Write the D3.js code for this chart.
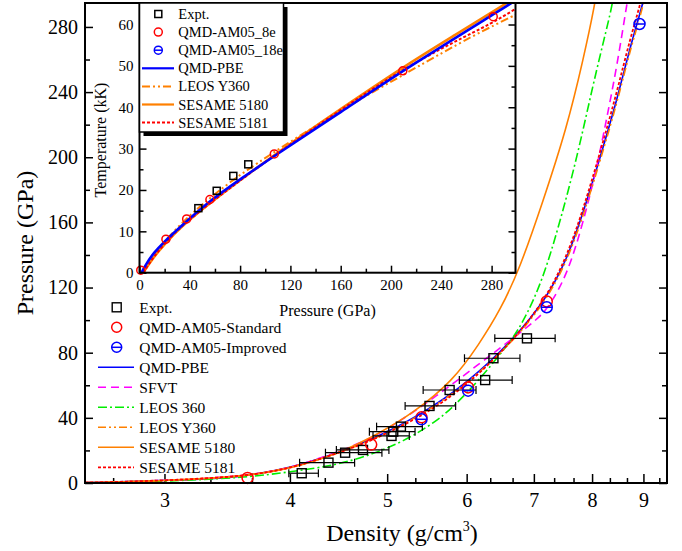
<!DOCTYPE html>
<html lang="en">
<head>
<meta charset="utf-8">
<title>Pressure vs density</title>
<script src="https://cdn.jsdelivr.net/npm/d3@7"></script>
<style>
	body { margin: 0; background: #fff; }
	text { font-family: "Liberation Serif", "Times New Roman", serif; fill: #000; }
</style>
</head>
<body>
<svg id="chart" width="682" height="551"></svg>
<script>
// ---- main plot: density (g/cm3) vs pressure (GPa) ----
var qmdPbe = [[2.5,0.2],[3,1.5],[3.33,2.4],[3.62,4.3],[4.02,9.4],[4.49,19],[4.8,26],[5.39,41.5],[6.0,61],[6.68,88],[7.2,113],[7.55,137],[7.84,166],[8.15,200],[8.47,235],[8.73,268],[9.0,295],[9.1,310]]
var sfvt = [[2.5,0.2],[3,1.4],[3.62,4.2],[4.02,9.3],[4.49,19.5],[4.8,27],[5.11,36.6],[5.59,53],[6.17,73],[6.68,89],[7.0,99],[7.21,106],[7.55,127],[7.84,160],[8.09,194],[8.28,225],[8.47,256],[8.67,295],[8.75,310]]
var leos360 = [[2.5,0],[3,1],[3.62,3.3],[4.02,7],[4.45,11],[4.8,17],[5.19,25.4],[5.59,37.6],[5.82,46.8],[6.17,63],[6.58,84],[6.81,97],[7.14,124],[7.43,160],[7.73,200],[8.02,245],[8.28,280],[8.39,295],[8.45,310]]
var leosY360 = [[2.5,0.2],[3,1.4],[3.62,4.1],[4.02,9.2],[4.49,18.8],[4.8,25.5],[5.39,41],[6.0,60.5],[6.68,87],[7.2,112],[7.55,136],[7.84,164],[8.15,198],[8.47,233],[8.73,266],[9.02,295],[9.1,310]]
var sesame5180 = [[2.5,0.2],[3,1.3],[3.62,4],[4.02,9],[4.49,18.5],[4.91,30.5],[5.31,43],[5.82,63],[6.17,85],[6.48,106],[6.78,132],[7.14,172],[7.55,218],[7.84,260],[8.06,295],[8.12,310]]
var sesame5181 = [[2.5,0.2],[3,1.4],[3.62,4.1],[4.02,9.2],[4.49,18.8],[4.8,25.5],[5.39,40],[6.0,59.5],[6.68,87.5],[7.2,113.5],[7.55,139],[7.84,168],[8.15,203],[8.47,240],[8.73,273],[8.95,295],[9.05,310]]

// expt: density, pressure, error-bar low, error-bar high
var expt = [[4.11,6.0,3.99,4.27],[4.37,12.5,4.09,4.64],[4.54,18.6,4.34,4.94],[4.73,20.3,4.45,5.02],
	[5.05,28.9,4.84,5.26],[5.07,31.5,4.80,5.33],[5.16,34.6,4.88,5.42],[5.51,47.3,5.21,5.85],
	[5.77,57.1,5.43,6.13],[6.26,63.2,5.90,6.66],[6.38,76.6,5.97,6.78],[6.89,88.8,6.40,7.35]]
var am05Std = [[3.63,3.1],[4.82,23.6],[5.41,40.3],[6.02,58.7],[7.21,111.5]]
var am05Imp = [[5.41,39.1],[6.02,56.7],[7.21,107.9],[8.92,281.8]]

var xTicks = [3,4,5,6,7,8,9]
var yTicks = [0,40,80,120,160,200,240,280]

// ---- inset: pressure (GPa) vs temperature (kK) ----
var inPbe = [[1.7,0],[3,0.8],[5.7,2.3],[11,4.7],[20,7.6],[30,10.4],[56,17.5],[83,23.2],[106,28],[160,38.8],[212,49.4],[295,65],[305,67]]
var inY360 = [[3,0],[11,4.2],[20,7.6],[35,12.5],[50,16.5],[72,22],[100,27.8],[150,37.5],[214,48.6],[268,57.8],[299,62.3],[305,63.3]]
var in5180 = [[3,0],[11,3.7],[20,6.9],[32,10.9],[59,17.6],[85,23.5],[110,29.1],[160,39.6],[210,49.8],[250,57.3],[292,65.2],[305,67.6]]
var in5181 = [[3,0],[11,3.8],[20,7],[32,11],[59,17.5],[85,23.4],[110,29],[160,39.4],[207,48.8],[250,55.8],[281,60.4],[299,63.8],[305,64.8]]
var inExpt = [[46.8,15.6],[61.4,19.8],[74.6,23.4],[86.5,26.2]]
var in8e = [[1,0.6],[21,8.1],[37.5,13],[56,17.7],[107.2,28.7],[209.4,48.8],[281.3,61.9]]
var inXTicks = [0,40,80,120,160,200,240,280]
var inYTicks = [0,10,20,30,40,50,60]

var svg = d3.select("#chart")

// main scales (mL/mR/mT/mB = frame edges)
var mL = 85, mR = 667, mT = 3, mB = 483
var x = d3.scaleLog().domain([2.5, 9.5]).range([mL, mR])
var y = d3.scaleLinear().domain([0, 294.7]).range([mB, mT])

svg.append("clipPath").attr("id","mainClip").append("rect")
	.attr("x",mL).attr("y",mT).attr("width",mR-mL).attr("height",mB-mT)

// ticks: majors with labels, minors without
function minorsLog() {
	var m = []
	for (var n=2; n<10; n++) { m.push(n+1/3); m.push(n+2/3) }
	return m.filter(function(v){ return v>2.5 && v<9.5 })
}
var axes = svg.append("g")
var gx = axes.append("g").attr("transform","translate(0,"+mB+")")
	.call(d3.axisBottom(x).tickValues(xTicks).tickFormat(d3.format("d")).tickSize(-9).tickPadding(10))
gx.append("g").call(d3.axisBottom(x).tickValues(minorsLog()).tickFormat("").tickSize(-5))
var gy = axes.append("g").attr("transform","translate("+mL+",0)")
	.call(d3.axisLeft(y).tickValues(yTicks).tickSize(-8).tickPadding(7))
gy.append("g").call(d3.axisLeft(y).tickValues(d3.range(20,295,40)).tickFormat("").tickSize(-5))
var gr = axes.append("g").attr("transform","translate("+mR+",0)")
	.call(d3.axisRight(y).tickValues(yTicks).tickFormat("").tickSize(-8))
gr.append("g").call(d3.axisRight(y).tickValues(d3.range(20,295,40)).tickFormat("").tickSize(-5))
axes.selectAll(".domain").remove()
axes.selectAll(".tick line").attr("stroke","#000").attr("stroke-width",1.5)
axes.selectAll(".tick text").style("font-size","20px").attr("font-family","Liberation Serif")

// curves
var styles = [
	{d: qmdPbe, c: "#0000ff", dash: null, w: 1.6},
	{d: sfvt, c: "#ff00ff", dash: "8,5", w: 1.6},
	{d: leos360, c: "#00ee00", dash: "9,3,2,3", w: 1.6},
	{d: leosY360, c: "#ff8000", dash: "8,3,2,3,2,3", w: 1.6},
	{d: sesame5180, c: "#ff8000", dash: null, w: 1.6},
	{d: sesame5181, c: "#ff0000", dash: "3,2", w: 1.8}
]
var line = d3.line().x(function(d){return x(d[0])}).y(function(d){return y(d[1])}).curve(d3.curveBasis)
var curves = svg.append("g").attr("clip-path","url(#mainClip)")
styles.forEach(function(s) {
	curves.append("path").attr("d", line(s.d)).attr("fill","none")
		.attr("stroke", s.c).attr("stroke-width", s.w).attr("stroke-dasharray", s.dash)
})

// expt squares with horizontal error bars
var eg = svg.append("g")
expt.forEach(function(p) {
	var cy = y(p[1])
	eg.append("line").attr("x1",x(p[2])).attr("x2",x(p[3])).attr("y1",cy).attr("y2",cy).attr("stroke","#000").attr("stroke-width",1.2)
	eg.append("line").attr("x1",x(p[2])).attr("x2",x(p[2])).attr("y1",cy-4).attr("y2",cy+4).attr("stroke","#000").attr("stroke-width",1.2)
	eg.append("line").attr("x1",x(p[3])).attr("x2",x(p[3])).attr("y1",cy-4).attr("y2",cy+4).attr("stroke","#000").attr("stroke-width",1.2)
	eg.append("rect").attr("x",x(p[0])-4.5).attr("y",cy-4.5).attr("width",9).attr("height",9)
		.attr("fill","none").attr("stroke","#000").attr("stroke-width",1.4)
})
function ring(g, cx, cy, r, col, bar) {
	g.append("circle").attr("cx",cx).attr("cy",cy).attr("r",r).attr("fill","none").attr("stroke",col).attr("stroke-width",1.5)
	if (bar) g.append("line").attr("x1",cx-r).attr("x2",cx+r).attr("y1",cy).attr("y2",cy).attr("stroke",col).attr("stroke-width",1.5)
}
am05Std.forEach(function(p){ ring(svg, x(p[0]), y(p[1]), 5.5, "#ff0000", false) })
am05Imp.forEach(function(p){ ring(svg, x(p[0]), y(p[1]), 5.5, "#0000ff", true) })

// main legend
var legNames = ["Expt.","QMD-AM05-Standard","QMD-AM05-Improved","QMD-PBE","SFVT","LEOS 360","LEOS Y360","SESAME 5180","SESAME 5181"]
var lg = svg.append("g")
legNames.forEach(function(n,i) {
	var ly = 307.3 + i*20
	if (i==0) lg.append("rect").attr("x",112.2).attr("y",ly-4.5).attr("width",9).attr("height",9).attr("fill","none").attr("stroke","#000").attr("stroke-width",1.4)
	else if (i==1) ring(lg, 116.7, ly, 5, "#ff0000", false)
	else if (i==2) ring(lg, 116.7, ly, 5, "#0000ff", true)
	else {
		var s = styles[i-3]
		lg.append("line").attr("x1",98).attr("x2",134).attr("y1",ly).attr("y2",ly)
			.attr("stroke",s.c).attr("stroke-width",s.w).attr("stroke-dasharray",s.dash)
	}
	lg.append("text").attr("x",139.3).attr("y",ly+5.5).style("font-size","15.5px").text(n)
})

// frame
svg.append("rect").attr("x",mL).attr("y",mT).attr("width",mR-mL).attr("height",mB-mT)
	.attr("fill","none").attr("stroke","#000").attr("stroke-width",2)

// axis titles
svg.append("text").attr("transform","translate(33,243) rotate(-90)").attr("text-anchor","middle")
	.style("font-size","24px").text("Pressure (GPa)")
var xt = svg.append("text").attr("x",402).attr("y",541).attr("text-anchor","middle").style("font-size","24px")
xt.append("tspan").text("Density (g/cm")
xt.append("tspan").attr("dy",-10).style("font-size","14px").text("3")
xt.append("tspan").attr("dy",10).text(")")

// ---- inset ----
var iL = 139.5, iR = 515.5, iT = 3, iB = 272.7
var ix = d3.scaleLinear().domain([0, 299]).range([iL, iR])
var iy = d3.scaleLinear().domain([0, 65.2]).range([iB, iT])
var ins = svg.append("g")
ins.append("rect").attr("x",iL).attr("y",iT).attr("width",iR-iL).attr("height",iB-iT).attr("fill","#fff")
svg.append("clipPath").attr("id","inClip").append("rect")
	.attr("x",iL).attr("y",iT).attr("width",iR-iL).attr("height",iB-iT)

var inAxes = ins.append("g")
var ixg = inAxes.append("g").attr("transform","translate(0,"+iB+")")
	.call(d3.axisBottom(ix).tickValues(inXTicks).tickSize(-7).tickPadding(7))
ixg.append("g").call(d3.axisBottom(ix).tickValues(d3.range(20,299,40)).tickFormat("").tickSize(-4))
var iyg = inAxes.append("g").attr("transform","translate("+iL+",0)")
	.call(d3.axisLeft(iy).tickValues(inYTicks).tickSize(-7).tickPadding(6))
iyg.append("g").call(d3.axisLeft(iy).tickValues(d3.range(5,65,10)).tickFormat("").tickSize(-4))
var iyr = inAxes.append("g").attr("transform","translate("+iR+",0)")
	.call(d3.axisRight(iy).tickValues(inYTicks).tickFormat("").tickSize(-7))
iyr.append("g").call(d3.axisRight(iy).tickValues(d3.range(5,65,10)).tickFormat("").tickSize(-4))
inAxes.selectAll(".domain").remove()
inAxes.selectAll(".tick line").attr("stroke","#000").attr("stroke-width",1.5)
inAxes.selectAll(".tick text").style("font-size","15px").attr("font-family","Liberation Serif")

var iline = d3.line().x(function(d){return ix(d[0])}).y(function(d){return iy(d[1])}).curve(d3.curveBasis)
var inStyles = [
	{d: in5180, c: "#ff8000", dash: null, w: 2.6},
	{d: inY360, c: "#ff8000", dash: "8,3,2,3,2,3", w: 2},
	{d: in5181, c: "#ff0000", dash: "3,2", w: 2},
	{d: inPbe, c: "#0000ff", dash: null, w: 2.6}
]
var ic = ins.append("g").attr("clip-path","url(#inClip)")
inStyles.forEach(function(s) {
	ic.append("path").attr("d", iline(s.d)).attr("fill","none")
		.attr("stroke", s.c).attr("stroke-width", s.w).attr("stroke-dasharray", s.dash)
})
inExpt.forEach(function(p) {
	ins.append("rect").attr("x",ix(p[0])-3.5).attr("y",iy(p[1])-3.5).attr("width",7).attr("height",7)
		.attr("fill","none").attr("stroke","#000").attr("stroke-width",1.5)
})
in8e.forEach(function(p){ ring(ins, ix(p[0]), iy(p[1]), 4, "#ff0000", false) })

ins.append("rect").attr("x",iL).attr("y",iT).attr("width",iR-iL).attr("height",iB-iT)
	.attr("fill","none").attr("stroke","#000").attr("stroke-width",2)

// inset legend with shadow
ins.append("rect").attr("x",iL+4).attr("y",iT+4).attr("width",144).attr("height",129).attr("fill","#000")
ins.append("rect").attr("x",iL).attr("y",iT).attr("width",144).attr("height",129).attr("fill","#fff").attr("stroke","#000").attr("stroke-width",1.5)
var inLeg = ["Expt.","QMD-AM05_8e","QMD-AM05_18e","QMD-PBE","LEOS Y360","SESAME 5180","SESAME 5181"]
var inLegStyles = [null,null,null,inStyles[3],inStyles[1],inStyles[0],inStyles[2]]
inLeg.forEach(function(n,i) {
	var ly = 14 + i*18.1
	if (i==0) ins.append("rect").attr("x",154.8).attr("y",ly-3.5).attr("width",7).attr("height",7).attr("fill","none").attr("stroke","#000").attr("stroke-width",1.5)
	else if (i==1) ring(ins, 158.3, ly, 4, "#ff0000", false)
	else if (i==2) ring(ins, 158.3, ly, 4, "#0000ff", true)
	else {
		var s = inLegStyles[i]
		ins.append("line").attr("x1",142).attr("x2",174).attr("y1",ly).attr("y2",ly)
			.attr("stroke",s.c).attr("stroke-width",Math.min(s.w,2.2)).attr("stroke-dasharray",s.dash)
	}
	ins.append("text").attr("x",178.3).attr("y",ly+5).style("font-size","14.5px").text(n)
})

ins.append("text").attr("x",279.3).attr("y",316).style("font-size","16px").text("Pressure (GPa)")
ins.append("text").attr("transform","translate(106,140) rotate(-90)").attr("text-anchor","middle")
	.style("font-size","16px").text("Temperature (kK)")
</script>
</body>
</html>
